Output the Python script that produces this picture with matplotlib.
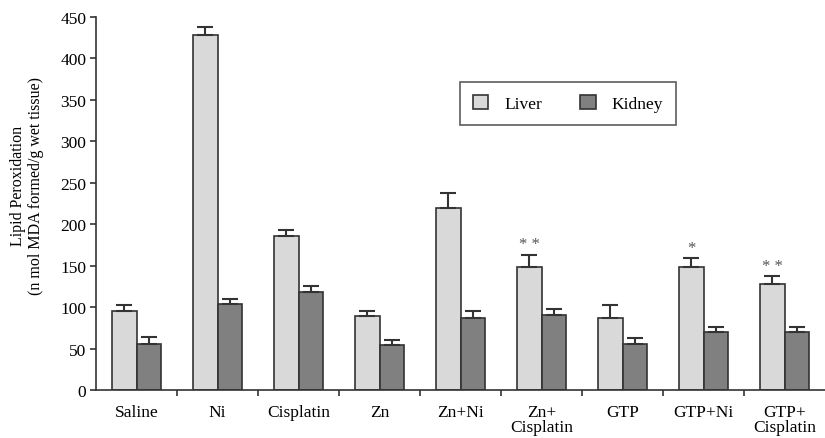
import matplotlib.pyplot as plt
import numpy as np

groups = ['Saline', 'Ni', 'Cisplatin', 'Zn', 'Zn+Ni', 'Zn+\nCisplatin', 'GTP', 'GTP+Ni', 'GTP+\nCisplatin']
liver = [95, 428, 186, 89, 220, 148, 87, 148, 128]
liver_err = [7, 10, 7, 6, 18, 15, 15, 11, 9]
kidney = [56, 104, 118, 54, 87, 90, 55, 70, 70]
kidney_err = [8, 6, 7, 6, 8, 8, 8, 6, 6]
marks = ['', '', '', '', '', '**', '', '*', '**']

plt.rcParams['font.family'] = ['Liberation Serif', 'DejaVu Serif']

fig = plt.figure(figsize=(8.25, 4.39), dpi=100)
ax = fig.add_axes([0.1164, 0.1093, 0.8836, 0.85])

x = np.arange(len(groups))
w = 0.3
edge = '#333333'
ax.bar(x - w / 2, liver, w, color='#d9d9d9', edgecolor=edge, linewidth=1.2, label='Liver', zorder=2)
ax.bar(x + w / 2, kidney, w, color='#808080', edgecolor=edge, linewidth=1.2, label='Kidney', zorder=2)
ax.errorbar(x - w / 2, liver, yerr=[np.zeros(len(x)), liver_err], fmt='none',
            ecolor=edge, elinewidth=1.5, capsize=6, capthick=1.5, zorder=3)
ax.errorbar(x + w / 2, kidney, yerr=[np.zeros(len(x)), kidney_err], fmt='none',
            ecolor=edge, elinewidth=1.5, capsize=6, capthick=1.5, zorder=3)

for i, m in enumerate(marks):
    if m:
        ax.text(x[i] - w / 2, liver[i] + liver_err[i] + 3, ' '.join(m), ha='center', va='bottom',
                fontsize=12, color='#555555')

ax.set_xlim(-0.5, len(groups) - 0.5)
ax.set_ylim(0, 450)
ax.set_yticks(range(0, 451, 50))
ax.set_xticks(x)
ax.set_xticklabels(groups, fontsize=12.5, linespacing=0.95)
ax.set_xticks(np.arange(0.5, len(groups) - 0.5, 1), minor=True)
ax.tick_params(axis='x', which='major', length=0, pad=10)
ax.tick_params(axis='x', which='minor', length=4, width=1.2, color=edge)
ax.tick_params(axis='y', labelsize=12.5, length=4, width=1.2, color=edge, pad=3)
for s in ['top', 'right']:
    ax.spines[s].set_visible(False)
for s in ['left', 'bottom']:
    ax.spines[s].set_linewidth(1.2)
    ax.spines[s].set_color(edge)

ax.set_ylabel('Lipid Peroxidation\n(n mol MDA formed/g wet tissue)', fontsize=11.5, linespacing=1.1)
ax.yaxis.set_label_coords(-0.072, 0.55)

leg = ax.legend(loc='upper left', bbox_to_anchor=(0.499, 0.826), ncol=2, frameon=True, fancybox=False,
                edgecolor=edge, fontsize=12.5, handlelength=0.9, handleheight=0.9,
                columnspacing=2.2, borderpad=0.75, handletextpad=0.9, borderaxespad=0)
leg.get_frame().set_linewidth(1.2)

fig.savefig('out.png', dpi=100)
